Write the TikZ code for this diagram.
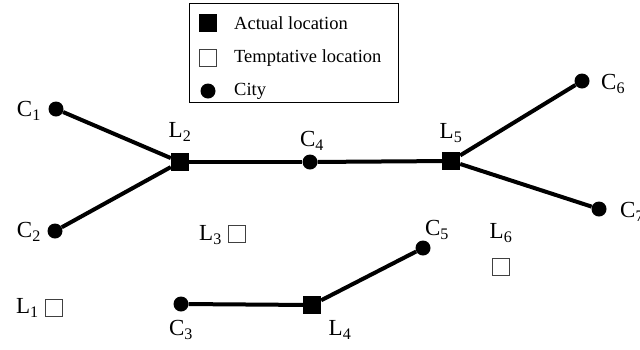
\documentclass[tikz,border=0pt]{standalone}
\usepackage{fontspec}
\setmainfont{Liberation Serif}
\tikzset{
  city/.style={circle, fill=black, inner sep=0pt, minimum size=15pt},
  actual/.style={rectangle, fill=black, inner sep=0pt, minimum size=18pt},
  tentative/.style={rectangle, draw=black!75, line width=0.8pt, fill=white, inner sep=0pt, minimum size=17pt},
  lbl/.style={font=\fontsize{23}{26}\selectfont, inner sep=0pt},
  legtext/.style={font=\fontsize{18.5}{21}\selectfont, anchor=west, inner sep=0pt},
  link/.style={line width=4pt}
}
\begin{document}
\begin{tikzpicture}[x=1pt,y=-1pt]
\useasboundingbox (0,0) rectangle (640,349);
\draw[line width=1pt] (189,3) rectangle (398,102);
\node[actual] (keyact) at (208,23) {};
\node[legtext] (keyacttxt) at (234,23) {Actual location};
\node[tentative] (keytent) at (208,58) {};
\node[legtext] (keytenttxt) at (234,58) {Temptative location};
\node[city] (keycity) at (208,91) {};
\node[legtext] (keycitytxt) at (234,91) {City};
\node[city] (c1) at (56,109) {};
\node[lbl, anchor=east] (c1lbl) at (41,111) {C\textsubscript{1}};
\node[city] (c2) at (55,231) {};
\node[lbl, anchor=east] (c2lbl) at (41,232) {C\textsubscript{2}};
\node[city] (c3) at (181,304) {};
\node[lbl] (c3lbl) at (181,330) {C\textsubscript{3}};
\node[city] (c4) at (310,162) {};
\node[lbl] (c4lbl) at (312,141) {C\textsubscript{4}};
\node[city] (c5) at (423,248) {};
\node[lbl] (c5lbl) at (437,230) {C\textsubscript{5}};
\node[city] (c6) at (582,81) {};
\node[lbl, anchor=west] (c6lbl) at (601,84) {C\textsubscript{6}};
\node[city] (c7) at (599,209) {};
\node[lbl, anchor=west] (c7lbl) at (620,212) {C\textsubscript{7}};
\node[tentative] (l1) at (54,308) {};
\node[lbl, anchor=east] (l1lbl) at (39,308) {L\textsubscript{1}};
\node[actual] (l2) at (180,162) {};
\node[lbl] (l2lbl) at (180,132) {L\textsubscript{2}};
\node[tentative] (l3) at (237,234) {};
\node[lbl, anchor=east] (l3lbl) at (222,235) {L\textsubscript{3}};
\node[actual] (l4) at (312,305) {};
\node[lbl] (l4lbl) at (340,330) {L\textsubscript{4}};
\node[actual] (l5) at (451,161) {};
\node[lbl] (l5lbl) at (451,133) {L\textsubscript{5}};
\node[tentative] (l6) at (501,267) {};
\node[lbl] (l6lbl) at (501,233) {L\textsubscript{6}};
\draw[link] (c1) -- (l2);
\draw[link] (c2) -- (l2);
\draw[link] (l2) -- (c4);
\draw[link] (c4) -- (l5);
\draw[link] (l5) -- (c6);
\draw[link] (l5) -- (c7);
\draw[link] (c3) -- (l4);
\draw[link] (l4) -- (c5);
\end{tikzpicture}
\end{document}
